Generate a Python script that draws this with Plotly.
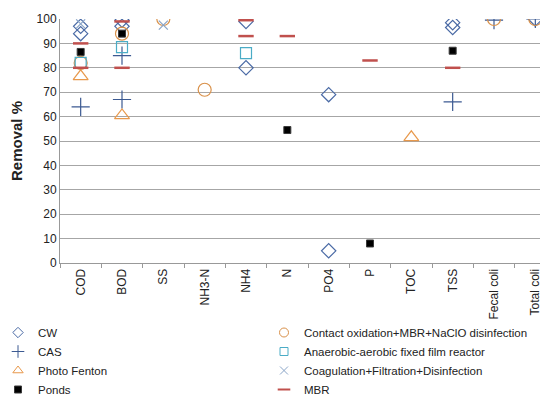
import plotly.graph_objects as go

categories = ["COD", "BOD", "SS", "NH3-N", "NH4", "N", "PO4", "P", "TOC", "TSS", "Fecal coli", "Total coli"]
y_ticks = [0, 10, 20, 30, 40, 50, 60, 70, 80, 90, 100]

cw_cats = ["COD", "COD", "BOD", "BOD", "NH4", "NH4", "PO4", "PO4", "TSS", "TSS", "Total coli"]
cw_vals = [97, 94, 99.5, 97, 99, 80, 69, 5, 98.5, 96.5, 100]

cas_cats = ["COD", "BOD", "BOD", "TSS", "Fecal coli", "Total coli"]
cas_vals = [64, 85, 67, 66, 99.5, 100]

fenton_cats = ["COD", "BOD", "TOC"]
fenton_vals = [76.5, 60.5, 51.5]

ponds_cats = ["COD", "BOD", "N", "P", "TSS"]
ponds_vals = [86.5, 94, 54.5, 8, 87]

contact_cats = ["COD", "BOD", "SS", "NH3-N", "Fecal coli", "Total coli"]
contact_vals = [82, 94, 100, 71, 100, 100]

anaer_cats = ["COD", "BOD", "NH4"]
anaer_vals = [82, 88.5, 86]

coag_cats = ["COD", "SS"]
coag_vals = [98, 97.5]

mbr_cats = ["COD", "COD", "BOD", "BOD", "NH4", "NH4", "N", "P", "TSS"]
mbr_vals = [90, 80, 99, 80, 99.5, 93, 93, 83, 80]

FONT = "Liberation Sans, Arial, sans-serif"

fig = go.Figure()

def add(name, cats, vals, symbol, color, size, legend, lw=1.2, fill=None, lsize=8):
    mk = dict(symbol=symbol, size=size, color=fill if fill else color,
              line=dict(color=color, width=lw))
    fig.add_trace(go.Scatter(x=cats, y=vals, mode="markers", name=name,
                             marker=mk, showlegend=False, legendgroup=name))
    # legend entry with smaller symbol (no data points)
    lmk = dict(mk)
    lmk["size"] = lsize
    lmk["line"] = dict(color=color, width=1 if lw < 2 else 2)
    fig.add_trace(go.Scatter(x=[None], y=[None], mode="markers", name=name,
                             marker=lmk, showlegend=True, legendgroup=name, legend=legend))

add("CW", cw_cats, cw_vals, "diamond-open", "#4A6AA5", 11, "legend")
add("CAS", cas_cats, cas_vals, "cross-thin-open", "#3C5A92", 13, "legend", lsize=9)
add("Photo Fenton", fenton_cats, fenton_vals, "triangle-up-open", "#E8994C", 13, "legend", lsize=9)
add("Ponds", ponds_cats, ponds_vals, "square", "#3a3a3a", 7, "legend", lw=1, fill="#000000", lsize=7)
add("Contact oxidation+MBR+NaClO disinfection", contact_cats, contact_vals, "circle-open", "#D9914A", 13, "legend2", lsize=9)
add("Anaerobic-aerobic fixed film reactor", anaer_cats, anaer_vals, "square-open", "#4BACC6", 11, "legend2", lsize=8)
add("Coagulation+Filtration+Disinfection", coag_cats, coag_vals, "x-thin-open", "#8AA5C8", 9, "legend2", lsize=8)
add("MBR", mbr_cats, mbr_vals, "line-ew-open", "#C0504D", 11, "legend2", lw=2.5, lsize=9)

leg_common = dict(
    orientation="v", xref="paper", yref="container", yanchor="top", xanchor="left",
    font=dict(family=FONT, size=11.5, color="#222"),
    itemsizing="trace", itemwidth=30, tracegroupgap=0, bgcolor="rgba(0,0,0,0)",
)

PLOT_L, PLOT_W = 52, 496

fig.update_layout(
    width=548, height=398,
    margin=dict(l=PLOT_L, r=0, t=11, b=143, autoexpand=False),
    paper_bgcolor="white", plot_bgcolor="white",
    font=dict(family=FONT, size=12, color="#222"),
    showlegend=True,
    legend=dict(leg_common, x=(-10 - PLOT_L) / PLOT_W, y=1 - 310 / 398),
    legend2=dict(leg_common, x=(256 - PLOT_L) / PLOT_W, y=1 - 310 / 398),
)

fig.update_xaxes(
    type="category", categoryorder="array", categoryarray=categories,
    range=[-0.5, len(categories) - 0.5],
    tickangle=-90, tickson="boundaries", ticks="outside", ticklen=4,
    tickcolor="#999", showline=True, linecolor="#999", linewidth=1,
    showgrid=False, tickfont=dict(size=12, family=FONT, color="#222"),
)
fig.update_yaxes(
    range=[0, 100], tickvals=y_ticks, showgrid=True, gridcolor="#A6A6A6", gridwidth=1,
    showline=True, linecolor="#999", linewidth=1, zeroline=False,
    ticks="", tickfont=dict(size=12, family=FONT, color="#222"),
    title=dict(text="<b>Removal %</b>", font=dict(size=15, family=FONT, color="#222"), standoff=10),
)

fig.write_html("out.html")
